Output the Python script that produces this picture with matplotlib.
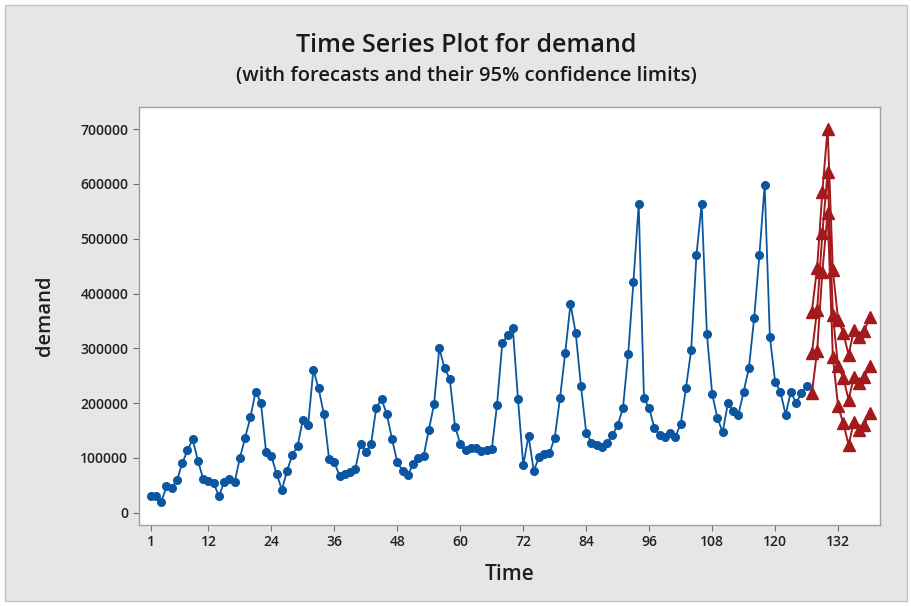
import matplotlib
matplotlib.use("Agg")
import matplotlib.pyplot as plt
from matplotlib.patches import Rectangle
import numpy as np

# observed demand, one value per period
demand = [30000, 30000, 19000, 48000, 46000, 59000, 90000, 114000, 134000, 95000,
          62000, 58000, 54000, 30000, 56000, 62000, 56000, 100000, 137000, 174000,
          221000, 201000, 110000, 103000, 71000, 42000, 77000, 106000, 122000, 170000,
          160000, 261000, 227000, 180000, 98000, 92000, 67000, 71000, 75000, 80000,
          126000, 110000, 126000, 192000, 207000, 180000, 134000, 92000, 77000, 68000,
          89000, 100000, 103000, 151000, 198000, 300000, 264000, 244000, 157000, 126000,
          115000, 118000, 119000, 112000, 115000, 116000, 197000, 309000, 324000, 338000,
          207000, 87000, 140000, 77000, 101000, 107000, 109000, 137000, 209000, 292000,
          381000, 328000, 231000, 146000, 128000, 124000, 120000, 128000, 142000, 160000,
          191000, 290000, 422000, 563000, 209000, 191000, 154000, 142000, 139000, 145000,
          139000, 162000, 227000, 297000, 470000, 563000, 326000, 217000, 173000, 147000,
          200000, 185000, 179000, 221000, 264000, 355000, 470000, 598000, 321000, 239000,
          221000, 179000, 221000, 200000, 218000, 231000]

# forecasts and 95% limits for the next 12 periods
forecast = [291000, 370000, 510000, 622000, 361000, 267000, 246000, 206000, 248000, 236000, 248000, 267000]
lower = [218000, 295000, 440000, 547000, 285000, 194000, 163000, 124000, 166000, 151000, 161000, 182000]
upper = [367000, 447000, 586000, 701000, 443000, 352000, 328000, 288000, 333000, 321000, 331000, 358000]

xticks = [1, 12, 24, 36, 48, 60, 72, 84, 96, 108, 120, 132]
yticks = [0, 100000, 200000, 300000, 400000, 500000, 600000, 700000]

t_hist = np.arange(1, len(demand) + 1)
t_fc = np.arange(len(demand) + 1, len(demand) + 1 + len(forecast))

plt.rcParams['font.family'] = ['Open Sans', 'DejaVu Sans']

blue = '#0B56A0'
red = '#A3191C'
bg = '#E6E6E6'

fig = plt.figure(figsize=(9.12, 6.06), dpi=100, facecolor='white')
# gray panel with a thin frame, kept behind the axes
fig.patches.append(Rectangle((0.006, 0.008), 0.988, 0.984, transform=fig.transFigure,
                             facecolor=bg, edgecolor='#C4C4C4', lw=1.0, zorder=-10))

ax = fig.add_axes([0.152, 0.134, 0.813, 0.689])
ax.set_facecolor('white')

ax.plot(t_hist, demand, color=blue, lw=1.3, marker='o', ms=5.5, mec=blue, mfc=blue)
for series in (lower, forecast, upper):
    ax.plot(t_fc, series, color=red, lw=1.4, marker='^', ms=8, mec=red, mfc=red)

ax.set_xlim(-1.3, 140)
ax.set_ylim(-22000, 740000)
ax.set_xticks(xticks)
ax.set_yticks(yticks)
ax.set_yticklabels([str(v) for v in yticks])

for sp in ax.spines.values():
    sp.set_color('#A0A0A0')
    sp.set_linewidth(1.0)
ax.tick_params(direction='out', length=4, width=0.8, color='#707070',
               labelsize=10, labelcolor='#202020')
for lab in ax.get_xticklabels() + ax.get_yticklabels():
    lab.set_fontweight('semibold')

ax.set_xlabel('Time', fontsize=15, fontweight='semibold', color='#202020', labelpad=11)
ax.set_ylabel('demand', fontsize=14.5, fontweight='semibold', color='#202020', labelpad=18)

fig.text(0.511, 0.925, 'Time Series Plot for demand', ha='center', va='center',
         fontsize=18, fontweight='semibold', color='#1A1A1A')
fig.text(0.511, 0.874, '(with forecasts and their 95% confidence limits)', ha='center',
         va='center', fontsize=14.5, fontweight='semibold', color='#1A1A1A')

fig.savefig('out.png', dpi=100, facecolor='white')
